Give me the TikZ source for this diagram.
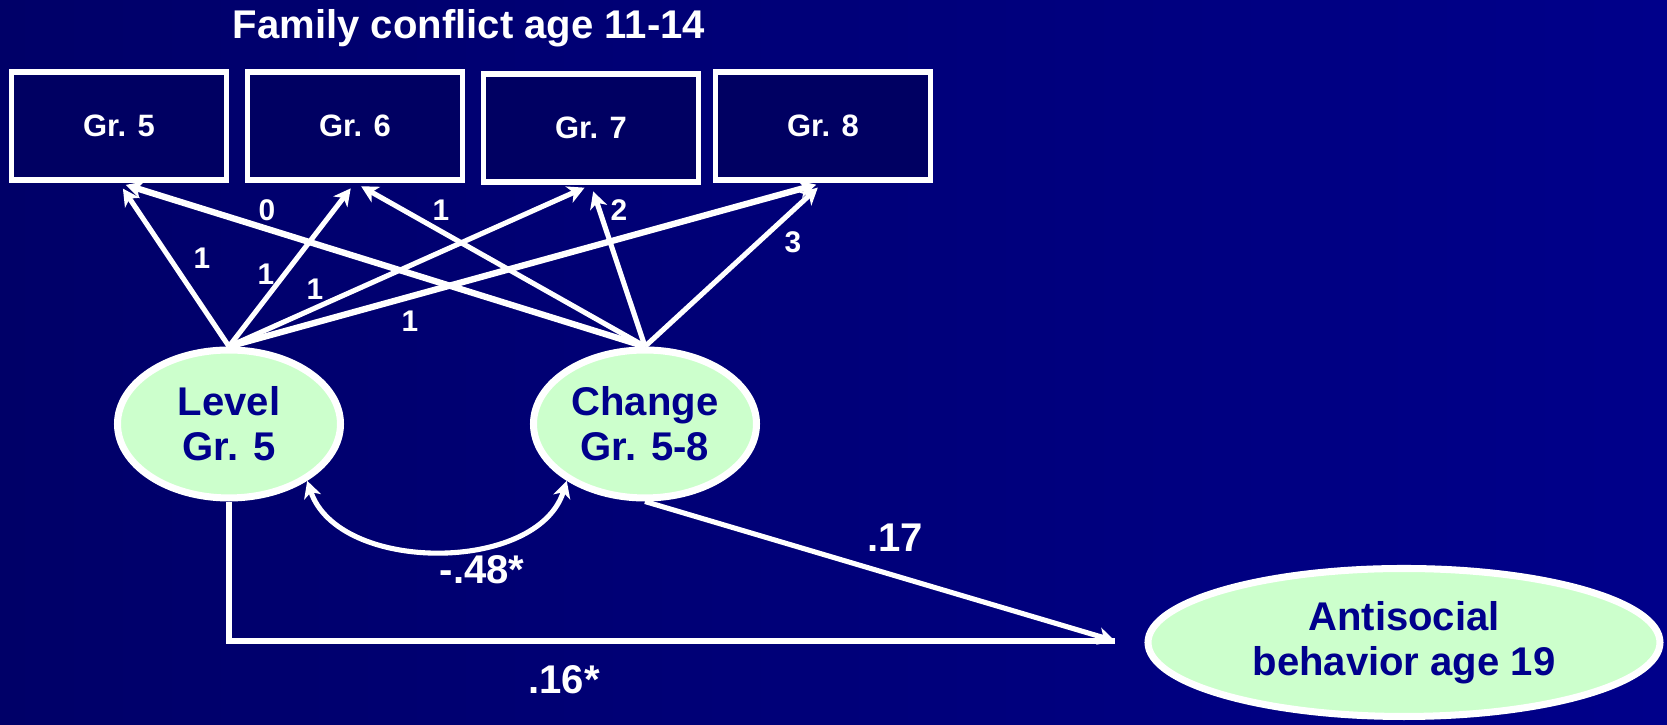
\documentclass[tikz,border=0pt]{standalone}
\usepackage{fontspec}
\setmainfont{Liberation Sans}
\usepackage{tikz}
\usetikzlibrary{shapes.geometric,arrows.meta}
\definecolor{bgleft}{RGB}{0,0,104}
\definecolor{bgright}{RGB}{0,0,138}
\definecolor{boxfill}{RGB}{0,0,98}
\definecolor{latentfill}{RGB}{204,255,204}
\definecolor{latenttext}{RGB}{0,0,140}
\tikzset{
  growthmodel/.style={
    every node/.style={inner sep=0pt},
    >={Stealth[length=4.8pt,width=5pt,inset=1.4pt]}
  },
  wave/.style={draw=white, line width=1.6pt, fill=boxfill, text=white,
    minimum width=2.15cm, minimum height=1.08cm,
    font={\fontsize{8.8}{10}\selectfont\bfseries}},
  factor/.style={ellipse, draw=white, line width=2pt, fill=latentfill,
    text=latenttext, align=center, minimum width=2.23cm, minimum height=1.48cm,
    font={\fontsize{11.4}{12.8}\selectfont\bfseries}},
  loading/.style={draw=white, line width=1.45pt, ->},
  heavy/.style={line width=1.8pt},
  weight/.style={text=white, font={\fontsize{8.5}{10}\selectfont\bfseries}},
  coef/.style={text=white, font={\fontsize{11.4}{13}\selectfont\bfseries}}
}

\begin{document}
\begin{tikzpicture}[growthmodel]
\shade[left color=bgleft, right color=bgright] (0,0) rectangle (16.67,7.25);
\useasboundingbox (0,0) rectangle (16.67,7.25);
\node[coef] (title) at (4.69,6.97) {Family conflict age 11-14};
\node[wave] (g5) at (1.19,5.99) {Gr. 5};
\node[wave] (g6) at (3.55,5.99) {Gr. 6};
\node[wave] (g7) at (5.91,5.97) {Gr. 7};
\node[wave] (g8) at (8.23,5.99) {Gr. 8};
\node[factor] (level) at (2.29,3.01) {Level\\Gr. 5};
\node[factor] (change) at (6.45,3.01) {Change\\Gr. 5-8};
\node[factor, minimum width=5.12cm] (asb) at (14.04,0.825) {Antisocial\\behavior age 19};
\coordinate (asbin) at (11.15,0.84);
\foreach \g/\lw/\cw in {g5/loading/heavy,g6/loading/loading,g7/loading/loading,g8/heavy/loading} {
  \draw[loading, \lw, shorten >=2pt] (level.north) -- (\g.south);
  \draw[loading, \cw, shorten >=2pt] (change.north) -- (\g.south);
}
\node[weight] (l5) at (2.02,4.67) {1};
\node[weight] (l6) at (2.66,4.51) {1};
\node[weight] (l7) at (3.15,4.36) {1};
\node[weight] (l8) at (4.10,4.04) {1};
\node[weight] (c5) at (2.67,5.15) {0};
\node[weight] (c6) at (4.41,5.15) {1};
\node[weight] (c7) at (6.19,5.15) {2};
\node[weight] (c8) at (7.93,4.83) {3};
\draw[loading, <->] (level.-36) .. controls +(0.31,-0.93) and +(-0.29,-0.93) .. (change.216);
\node[coef] (cov) at (4.82,1.55) {-.48*};
\draw[draw=white, line width=1.6pt] (level.south) |- (asbin);
\draw[loading] (change.south) -- (asbin);
\node[coef] (blevel) at (5.64,0.45) {.16*};
\node[coef] (bchange) at (8.95,1.87) {.17};
\end{tikzpicture}
\end{document}
